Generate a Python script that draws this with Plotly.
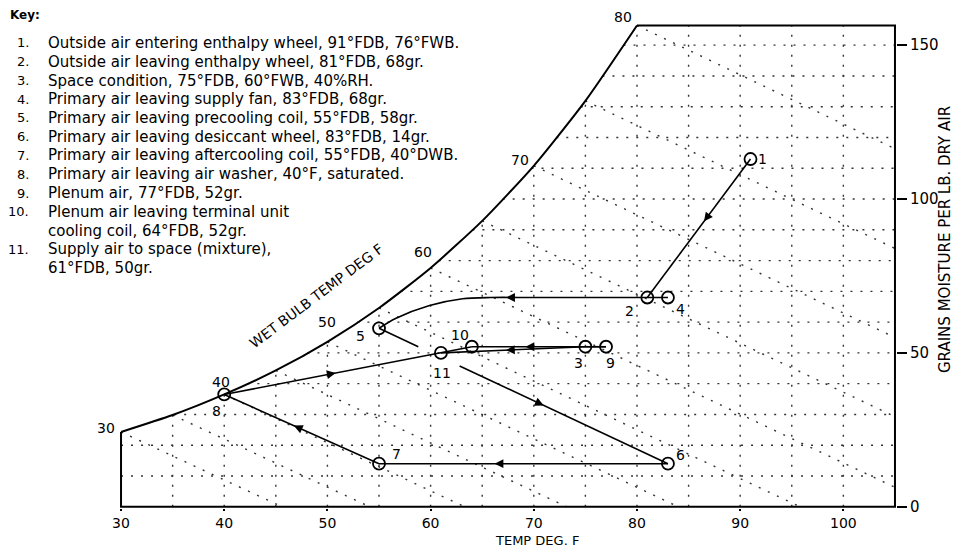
import numpy as np
import plotly.graph_objects as go

# ---------------- data ----------------
# saturation curve (dry bulb F, grains per lb dry air)
sat_temps = [30, 35, 40, 45, 50, 55, 60, 65, 70, 75, 80]
sat_grains = [24.3, 29.8, 36.5, 44.3, 53.6, 64.6, 77.6, 92.9, 110.8, 131.9, 156.4]

# wet bulb lines: wet-bulb temp and dry-bulb temp where the line reaches 0 grains
wb_temps = [30, 35, 40, 45, 50, 55, 60, 65, 70, 75, 80]
wb_zero_temps = [45.6, 54.1, 63.3, 73.2, 84.0, 95.8, 109.0, 123.4, 139.5, 157.5, 177.6]
wb_labels = ["30", "40", "50", "60", "70", "80"]

# state points
pt_names = ["1", "2", "3", "4", "5", "6", "7", "8", "9", "10", "11"]
pt_temp = [91, 81, 75, 83, 55, 83, 55, 40, 77, 64, 61]
pt_grains = [113, 68, 52, 68, 58, 14, 14, 36.5, 52, 52, 50]

# precooling coil process curve (4 -> 2 -> 5)
precool_temp = [83, 81, 70, 65.8, 63.1, 59.9, 56.6, 55]
precool_grains = [68, 68, 68, 68, 67.6, 65.4, 61.2, 58]

x_ticks = [30, 40, 50, 60, 70, 80, 90, 100]
y_ticks = [0, 50, 100, 150]

key_numbers = ["1.", "2.", "3.", "4.", "5.", "6.", "7.", "8.", "9.", "10.", "", "11.", ""]
key_lines = [
    "Outside air entering enthalpy wheel, 91°FDB, 76°FWB.",
    "Outside air leaving enthalpy wheel, 81°FDB, 68gr.",
    "Space condition, 75°FDB, 60°FWB, 40%RH.",
    "Primary air leaving supply fan, 83°FDB, 68gr.",
    "Primary air leaving precooling coil, 55°FDB, 58gr.",
    "Primary air leaving desiccant wheel, 83°FDB, 14gr.",
    "Primary air leaving aftercooling coil, 55°FDB, 40°DWB.",
    "Primary air leaving air washer, 40°F, saturated.",
    "Plenum air, 77°FDB, 52gr.",
    "Plenum air leaving terminal unit",
    "cooling coil, 64°FDB, 52gr.",
    "Supply air to space (mixture),",
    "61°FDB, 50gr.",
]

# ---------------- layout constants ----------------
OFF = 8                       # page body margin
FW, FH = 959, 550
ML, MR, MT, MB = 112, 71, 15, 50
PW, PH = FW - ML - MR, FH - MT - MB
XR = [29.9, 105.1]
YR = [-0.4, 157.2]
FONT = "DejaVu Sans"

def pxx(x):   # page pixel -> paper
    return (x - OFF - ML) / PW

def pxy(y):
    return 1 - (y - OFF - MT) / PH

SX = PW / (XR[1] - XR[0])
SY = PH / (YR[1] - YR[0])

def d2px(t, w):   # data -> page pixel (for labels outside the axis range)
    return OFF + ML + (t - XR[0]) * SX, OFF + MT + (YR[1] - w) * SY

P = dict(zip(pt_names, zip(pt_temp, pt_grains)))
T_top = sat_temps[-1]
W_top = sat_grains[-1]

fig = go.Figure()

dot = dict(color="#333", width=1.4, dash="2px,8px")

# grid: verticals every 5 F
gx, gy = [], []
for t in range(35, 105, 5):
    top = float(np.interp(t, sat_temps, sat_grains)) if t < T_top else W_top
    gx += [t, t, None]
    gy += [0, top, None]
# horizontals every 10 grains
for w in range(10, 160, 10):
    if w > W_top:
        continue
    start = float(np.interp(w, sat_grains, sat_temps)) if w > sat_grains[0] else sat_temps[0]
    gx += [start, 105, None]
    gy += [w, w, None]
# wet bulb lines
for twb, t0 in zip(wb_temps, wb_zero_temps):
    ws = float(np.interp(twb, sat_temps, sat_grains))
    gx += [twb, t0, None]
    gy += [ws, 0, None]
fig.add_trace(go.Scatter(x=gx, y=gy, mode="lines", line=dot, hoverinfo="skip", showlegend=False))

# saturation curve
fig.add_trace(go.Scatter(x=sat_temps, y=sat_grains, mode="lines",
                         line=dict(color="black", width=2, shape="spline", smoothing=0.6),
                         hoverinfo="skip", showlegend=False))
# chart border
fig.add_trace(go.Scatter(x=[sat_temps[0], 30, 105, 105, T_top],
                         y=[sat_grains[0], 0, 0, W_top, W_top], mode="lines",
                         line=dict(color="black", width=2), hoverinfo="skip", showlegend=False))

proc = dict(color="black", width=1.6)

def seg(a, b, f0=0.0, f1=1.0):
    (x0, y0), (x1, y1) = P[a], P[b]
    return [x0 + (x1 - x0) * f0, x0 + (x1 - x0) * f1], [y0 + (y1 - y0) * f0, y0 + (y1 - y0) * f1]

# process lines
segments = [("1", "2", 0, 1), ("5", "6", 0, 0.136), ("5", "6", 0.279, 1), ("6", "7", 0, 1),
            ("7", "8", 0, 1), ("8", "10", 0, 1), ("3", "9", 0, 1), ("9", "10", 0, 1), ("3", "11", 0, 1)]
lx, ly = [], []
for a, b, f0, f1 in segments:
    xs, ys = seg(a, b, f0, f1)
    lx += xs + [None]
    ly += ys + [None]
fig.add_trace(go.Scatter(x=lx, y=ly, mode="lines", line=proc, hoverinfo="skip", showlegend=False))
fig.add_trace(go.Scatter(x=precool_temp, y=precool_grains, mode="lines",
                         line=dict(color="black", width=1.6, shape="spline", smoothing=0.8),
                         hoverinfo="skip", showlegend=False))

# state point circles
fig.add_trace(go.Scatter(x=pt_temp, y=pt_grains, mode="markers",
                         marker=dict(symbol="circle-open", size=12, color="black", line=dict(width=1.8)),
                         hoverinfo="skip", showlegend=False))

annotations = []
TXT = dict(family=FONT, size=14, color="black")

# point labels (pixel offsets)
lab_off = {"1": (12, 0), "2": (-18, 13), "3": (-7, 16), "4": (13, 11), "5": (-19, 8),
           "6": (13, -9), "7": (17, -10), "8": (-8, 17), "9": (4, 16), "10": (-12, -12),
           "11": (1, 20)}
for n in pt_names:
    dx, dy = lab_off[n]
    annotations.append(dict(x=P[n][0], y=P[n][1], xref="x", yref="y", text=n, showarrow=False,
                            xshift=dx, yshift=-dy, font=TXT))

# arrows along process lines (fraction along segment, direction a->b)
arrows = [("1", "2", 0.45), ("5", "6", 0.57), ("6", "7", 0.6), ("7", "8", 0.55),
          ("8", "10", 0.45), ("9", "10", 0.6), ("3", "11", 0.55)]
def add_arrow(x0, y0, x1, y1, f):
    hx, hy = x0 + (x1 - x0) * f, y0 + (y1 - y0) * f
    ux, uy = (x1 - x0) * SX, -(y1 - y0) * SY
    n = (ux ** 2 + uy ** 2) ** 0.5
    annotations.append(dict(x=hx, y=hy, xref="x", yref="y", text="", showarrow=True,
                            ax=-ux / n * 9, ay=-uy / n * 9, arrowhead=2, arrowsize=1.1,
                            arrowwidth=1.6, arrowcolor="black"))
for a, b, f in arrows:
    add_arrow(P[a][0], P[a][1], P[b][0], P[b][1], f)
# arrow on precooling path (heading left)
add_arrow(precool_temp[1], precool_grains[1], precool_temp[3], precool_grains[3], 0.9)

# wet bulb labels on saturation curve (placed in page pixels so they show outside the axis range)
wb_lab_pos = {"30": (29.6, 25.5, "right"), "40": (39.7, 40.5, "center"), "50": (50.0, 60.0, "center"),
              "60": (59.3, 82.8, "center"), "70": (68.7, 112.7, "center"), "80": (78.6, 159.0, "center")}
for s in wb_labels:
    t, w, anc = wb_lab_pos[s]
    px, py = d2px(t, w)
    annotations.append(dict(x=pxx(px), y=pxy(py), xref="paper", yref="paper", text=s,
                            showarrow=False, xanchor=anc, yanchor="middle", font=TXT))
annotations.append(dict(x=48.9, y=68.5, xref="x", yref="y", text="WET BULB TEMP DEG F",
                        showarrow=False, textangle=-37, font=dict(family=FONT, size=14, color="black")))

# key
KEYF = dict(family=FONT, size=15, color="black")
annotations.append(dict(x=pxx(8), y=pxy(15), xref="paper", yref="paper", text="<b>Key:</b>",
                        showarrow=False, xanchor="left", yanchor="middle",
                        font=dict(family=FONT, size=12, color="black")))
key_y0, key_dy = 43, 18.75
for i, (num, line) in enumerate(zip(key_numbers, key_lines)):
    yy = key_y0 + i * key_dy
    if num:
        annotations.append(dict(x=pxx(31), y=pxy(yy), xref="paper", yref="paper", text=num,
                                showarrow=False, xanchor="right", yanchor="middle",
                                font=dict(family=FONT, size=13, color="black")))
    annotations.append(dict(x=pxx(46), y=pxy(yy), xref="paper", yref="paper", text=line,
                            showarrow=False, xanchor="left", yanchor="middle", font=KEYF))

# axis titles
annotations.append(dict(x=pxx(537), y=pxy(550), xref="paper", yref="paper", text="TEMP DEG. F",
                        showarrow=False, font=dict(family=FONT, size=13, color="black")))
annotations.append(dict(x=pxx(956), y=pxy(240), xref="paper", yref="paper",
                        text="GRAINS MOISTURE PER LB. DRY AIR", textangle=-90, showarrow=False,
                        font=dict(family=FONT, size=15, color="black")))

fig.update_layout(
    width=FW, height=FH,
    margin=dict(l=ML, r=MR, t=MT, b=MB),
    paper_bgcolor="white", plot_bgcolor="white",
    showlegend=False,
    annotations=annotations,
    xaxis=dict(range=XR, tickvals=x_ticks, ticks="outside", ticklen=2, tickwidth=1.5,
               tickcolor="black", showgrid=False, zeroline=False, showline=False,
               tickfont=dict(family=FONT, size=14, color="black")),
    yaxis=dict(range=YR, side="right", tickvals=y_ticks, ticks="outside", ticklen=10, tickwidth=2,
               tickcolor="black", showgrid=False, zeroline=False, showline=False,
               tickfont=dict(family=FONT, size=15, color="black")),
)

fig.write_html("out.html")
